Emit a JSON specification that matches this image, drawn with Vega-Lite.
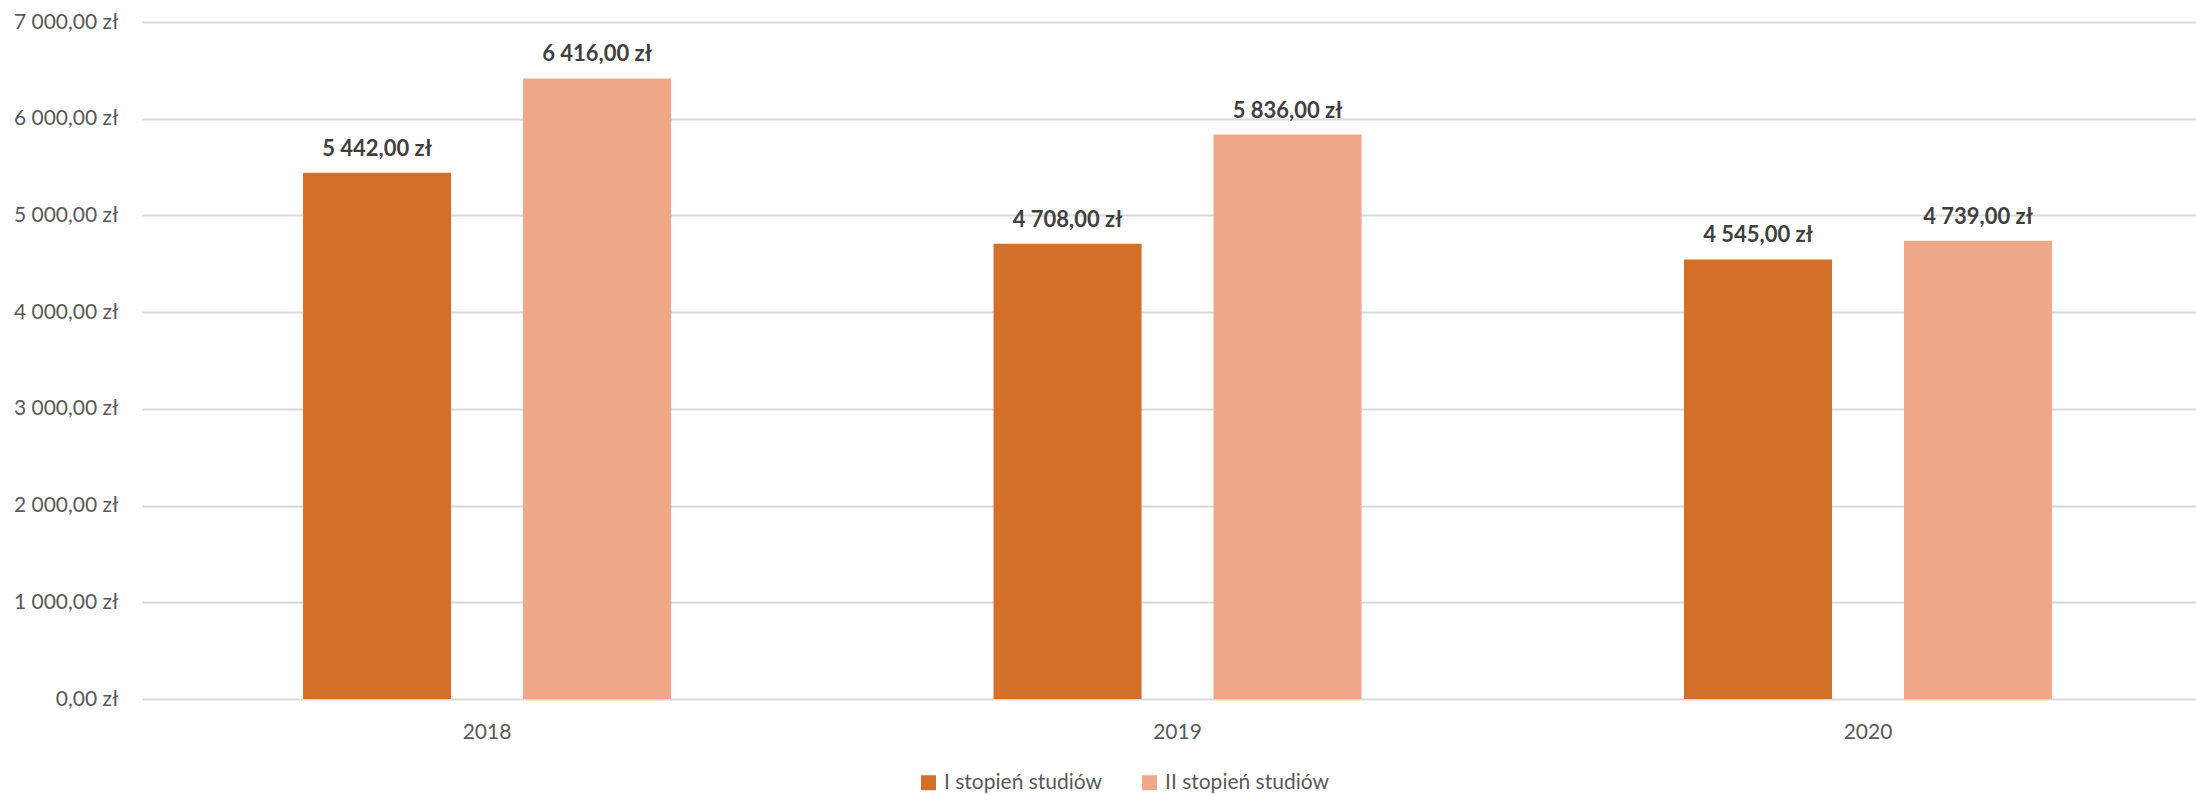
{
  "$schema": "https://vega.github.io/schema/vega-lite/v6.json",
  "width": 2054,
  "height": 677,
  "autosize": {"type": "none"},
  "padding": {"left": 142, "top": 22, "right": 0, "bottom": 96},
  "background": "white",
  "config": {
    "locale": {"number": {"decimal": ",", "thousands": " ", "grouping": [3], "currency": ["", " zł"]}},
    "font": "Lato",
    "view": {"stroke": null},
    "axis": {"labelFont": "Lato", "labelFontSize": 21, "labelColor": "#595959", "title": null}
  },
  "data": {
    "values": [
      {"rok": "2018", "stopien": "I stopień studiów", "wartosc": 5442},
      {"rok": "2018", "stopien": "II stopień studiów", "wartosc": 6416},
      {"rok": "2019", "stopien": "I stopień studiów", "wartosc": 4708},
      {"rok": "2019", "stopien": "II stopień studiów", "wartosc": 5836},
      {"rok": "2020", "stopien": "I stopień studiów", "wartosc": 4545},
      {"rok": "2020", "stopien": "II stopień studiów", "wartosc": 4739}
    ]
  },
  "encoding": {
    "x": {
      "field": "rok", "type": "nominal",
      "scale": {"paddingInner": 0.467, "paddingOuter": 0.22085, "align": 0.528},
      "axis": {"labelAngle": 0, "ticks": false, "domain": false, "labelPadding": 22, "grid": false}
    },
    "xOffset": {
      "field": "stopien", "type": "nominal",
      "scale": {"paddingInner": 0.327, "paddingOuter": 0}
    },
    "y": {
      "field": "wartosc", "type": "quantitative",
      "scale": {"domain": [0, 7000], "nice": false},
      "axis": {
        "values": [0, 1000, 2000, 3000, 4000, 5000, 6000, 7000],
        "format": "$,.2f",
        "ticks": false, "domain": false, "labelPadding": 24,
        "gridColor": "#d9d9d9", "gridWidth": 2
      }
    }
  },
  "layer": [
    {
      "mark": {"type": "bar"},
      "encoding": {
        "color": {
          "field": "stopien", "type": "nominal",
          "scale": {"domain": ["I stopień studiów", "II stopień studiów"], "range": ["#D46F2A", "#F1A88A"]},
          "legend": {
            "title": null, "orient": "none", "direction": "horizontal",
            "legendX": 776, "legendY": 750,
            "symbolType": "square", "symbolSize": 225, "symbolStrokeWidth": 0,
            "labelFont": "Lato", "labelFontSize": 21, "labelColor": "#595959",
            "labelOffset": 5, "columnPadding": 36, "labelLimit": 400
          }
        }
      }
    },
    {
      "mark": {"type": "text", "baseline": "alphabetic", "dy": -17, "fontWeight": "bold", "fontSize": 22, "color": "#404040", "font": "Lato"},
      "encoding": {
        "text": {"field": "wartosc", "type": "quantitative", "format": "$,.2f"}
      }
    }
  ]
}
